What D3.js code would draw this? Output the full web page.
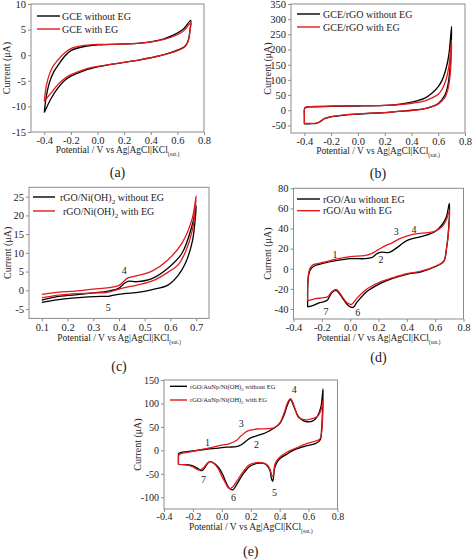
<!DOCTYPE html>
<html><head><meta charset="utf-8">
<script src="https://cdn.jsdelivr.net/npm/d3@7"></script>
<style>
body{margin:0;background:#fff;}
svg{display:block;font-family:"Liberation Serif","Times New Roman",serif;}
</style></head>
<body><svg id="c" width="474" height="559"></svg>
<script>
// ---------- DATA ----------
const xTicksWide = [-0.4,-0.2,0.0,0.2,0.4,0.6,0.8];
const xTicksC = [0.1,0.2,0.3,0.4,0.5,0.6,0.7];
const yTicksA = [-15,-10,-5,0,5,10];
const yTicksB = [-50,0,50,100,150,200,250,300,350];
const yTicksC = [-5,0,5,10,15,20,25];
const yTicksD = [-40,-20,0,20,40,60,80];
const yTicksE = [-100,-50,0,50,100,150];

const namesA = ["GCE without EG","GCE with EG"];
const namesB = ["GCE/rGO without EG","GCE/rGO with EG"];
const namesC = ["rGO/Ni(OH)_{2} without EG","rGO/Ni(OH)_{2} with EG"];
const namesD = ["rGO/Au without EG","rGO/Au with EG"];
const namesE = ["rGO/AuNp/Ni(OH)_{2} without EG","rGO/AuNp/Ni(OH)_{2} with EG"];
const subLabels = ["(a)","(b)","(c)","(d)","(e)"];

const aBlack = [[-0.4,-11.2],[-0.385,-8.0],[-0.36,-5.2],[-0.33,-3.3],[-0.3,-2.1],[-0.25,-0.3],[-0.2,0.9],[-0.1,1.7],[0,2.0],[0.1,2.1],[0.2,2.2],[0.3,2.3],[0.4,2.6],[0.5,3.2],[0.6,4.3],[0.65,5.2],[0.7,6.8],[0.695,5.0],[0.685,3.2],[0.67,2.2],[0.65,1.6],[0.6,1.0],[0.5,0.1],[0.4,-0.5],[0.3,-1.0],[0.2,-1.4],[0.1,-1.8],[0,-2.3],[-0.1,-3.0],[-0.2,-4.1],[-0.25,-5.0],[-0.3,-6.5],[-0.35,-8.5],[-0.4,-11.2]];
const aRed = [[-0.4,-9.0],[-0.385,-6.0],[-0.36,-3.6],[-0.33,-2.0],[-0.3,-1.0],[-0.25,0.4],[-0.2,1.3],[-0.1,1.9],[0,2.1],[0.1,2.1],[0.2,2.2],[0.3,2.3],[0.4,2.6],[0.5,3.1],[0.6,4.0],[0.65,4.8],[0.7,6.3],[0.695,4.8],[0.685,3.1],[0.67,2.1],[0.65,1.5],[0.6,0.9],[0.5,0.1],[0.4,-0.5],[0.3,-1.0],[0.2,-1.4],[0.1,-1.8],[0,-2.2],[-0.1,-2.8],[-0.2,-3.8],[-0.25,-4.6],[-0.3,-5.8],[-0.35,-7.4],[-0.4,-9.0]];

const bBlack = [[-0.4,-45],[-0.4,-20],[-0.4,2],[-0.395,8],[-0.38,10],[-0.35,11],[-0.2,13],[0,14],[0.2,16],[0.3,19],[0.4,27],[0.45,32],[0.5,40],[0.55,55],[0.6,78],[0.63,100],[0.66,140],[0.68,185],[0.7,276],[0.697,215],[0.69,150],[0.68,105],[0.67,78],[0.65,50],[0.6,22],[0.55,12],[0.5,5],[0.45,2],[0.4,0],[0.3,-4],[0.2,-8],[0.1,-10],[0,-13],[-0.1,-16],[-0.2,-22],[-0.25,-28],[-0.28,-37],[-0.3,-42],[-0.32,-44],[-0.36,-44.5],[-0.4,-45]];
const bRed = [[-0.4,-44],[-0.4,-20],[-0.4,3],[-0.395,9],[-0.38,11],[-0.35,12],[-0.2,14],[0,15],[0.2,16],[0.3,18],[0.4,23],[0.45,26],[0.5,31],[0.55,40],[0.6,53],[0.63,70],[0.66,103],[0.68,145],[0.7,232],[0.697,175],[0.69,120],[0.68,85],[0.67,65],[0.65,42],[0.6,20],[0.55,11],[0.5,5],[0.45,1],[0.4,-1],[0.3,-4],[0.2,-8],[0.1,-10],[0,-12],[-0.1,-15],[-0.2,-21],[-0.25,-27],[-0.28,-36],[-0.3,-41],[-0.32,-43],[-0.36,-43.5],[-0.4,-44]];

const cBlack = [[0.1,-2.6],[0.15,-1.8],[0.23,-1.2],[0.3,-0.7],[0.36,-0.2],[0.4,0.6],[0.42,1.8],[0.435,2.4],[0.47,2.3],[0.53,3.2],[0.59,5.9],[0.645,9.9],[0.685,17.5],[0.7,22.6],[0.695,18],[0.685,13],[0.66,7.5],[0.63,4],[0.59,1.4],[0.53,0.2],[0.48,-0.5],[0.42,-0.9],[0.38,-1.3],[0.36,-1.6],[0.33,-1.6],[0.23,-2.0],[0.15,-2.6],[0.1,-3.2]];
const cRed = [[0.1,-1.1],[0.15,-0.6],[0.23,-0.2],[0.3,0.3],[0.36,0.7],[0.4,1.3],[0.42,2.5],[0.435,3.3],[0.47,3.9],[0.53,5.2],[0.59,8.1],[0.645,12.6],[0.685,19.2],[0.7,25.2],[0.695,21],[0.685,16],[0.66,10.5],[0.63,6.8],[0.59,4.8],[0.53,2.5],[0.47,1.4],[0.41,0.5],[0.37,-0.3],[0.35,-0.6],[0.3,-0.7],[0.23,-0.9],[0.15,-1.4],[0.1,-2.0]];

const dBlack = [[-0.3,-38],[-0.3,-20],[-0.295,-8],[-0.285,-2],[-0.27,1],[-0.25,3],[-0.2,5],[-0.1,8],[0,10],[0.1,10],[0.15,11],[0.19,15],[0.22,16.5],[0.27,16],[0.3,18],[0.35,23],[0.4,28],[0.5,32],[0.55,34],[0.6,37],[0.65,44],[0.68,52],[0.7,65],[0.695,40],[0.68,20],[0.66,7],[0.6,2],[0.5,-3],[0.4,-5.5],[0.3,-9.5],[0.2,-15.5],[0.12,-22.5],[0.05,-33],[0.02,-38.5],[-0.01,-37],[-0.04,-32],[-0.07,-26],[-0.1,-21.5],[-0.13,-24],[-0.16,-31],[-0.19,-33],[-0.22,-34],[-0.26,-36.5],[-0.3,-38]];
const dRed = [[-0.3,-32],[-0.3,-18],[-0.295,-6],[-0.285,0],[-0.27,3],[-0.25,4.5],[-0.2,6],[-0.1,9.5],[0,12],[0.1,13],[0.15,15],[0.2,19],[0.25,23],[0.3,26],[0.35,30],[0.45,34.5],[0.55,36],[0.6,37.5],[0.65,42],[0.68,49],[0.7,58],[0.695,38],[0.68,20],[0.66,7.5],[0.6,2.5],[0.5,-2.5],[0.4,-5],[0.3,-9],[0.2,-14],[0.12,-20],[0.05,-29],[0.01,-35.5],[-0.02,-34],[-0.05,-29],[-0.08,-23],[-0.1,-20.5],[-0.13,-23],[-0.16,-28],[-0.2,-29],[-0.25,-30],[-0.3,-32]];

const eBlack = [[-0.3,-30],[-0.3,-15],[-0.298,-6.5],[-0.28,-4.5],[-0.25,-3],[-0.2,-1],[-0.1,2.5],[0,6],[0.05,7],[0.1,8],[0.135,12],[0.16,18],[0.19,25],[0.23,30],[0.26,33],[0.3,37],[0.36,47],[0.4,57],[0.43,75],[0.455,98],[0.475,108],[0.49,100],[0.505,88],[0.53,72],[0.56,64],[0.59,61],[0.63,63],[0.66,72],[0.685,92],[0.7,131],[0.697,90],[0.69,45],[0.68,22],[0.65,15],[0.59,10],[0.5,1],[0.45,-8],[0.405,-17],[0.38,-26],[0.365,-38],[0.352,-66],[0.343,-60],[0.335,-45],[0.32,-35],[0.3,-29],[0.27,-27],[0.24,-28],[0.19,-35],[0.15,-49],[0.1,-74],[0.078,-84],[0.06,-83],[0.043,-77],[0.02,-62],[0.007,-52],[-0.027,-35],[-0.062,-26],[-0.085,-24],[-0.108,-32],[-0.13,-42],[-0.145,-43],[-0.16,-40],[-0.2,-33],[-0.25,-30.5],[-0.3,-30]];
const eRed = [[-0.3,-30],[-0.3,-18],[-0.298,-10],[-0.28,-7],[-0.25,-5],[-0.2,-2],[-0.1,4],[0,11],[0.05,14],[0.1,21],[0.13,30],[0.17,40],[0.2,43],[0.24,45.5],[0.3,46],[0.36,48],[0.4,58],[0.43,79],[0.455,102],[0.475,110],[0.49,103],[0.505,90],[0.53,70],[0.56,66],[0.59,65],[0.63,68],[0.66,72],[0.685,85],[0.7,107],[0.697,70],[0.69,38],[0.68,25],[0.65,20],[0.59,15],[0.5,3],[0.45,-4],[0.41,-12],[0.38,-22],[0.365,-32],[0.355,-56],[0.345,-52],[0.335,-42],[0.32,-33],[0.3,-28],[0.27,-26],[0.24,-26],[0.19,-31],[0.15,-45],[0.1,-67],[0.075,-78],[0.062,-81],[0.045,-80],[0.02,-66],[0.007,-60],[-0.027,-38],[-0.062,-26],[-0.085,-24],[-0.108,-30],[-0.13,-38],[-0.16,-42],[-0.2,-35],[-0.25,-31],[-0.3,-30]];

const cPeakLabels = [["4",0.42,5.2],["5",0.358,-4.6]];
const dPeakLabels = [["1",-0.107,13.7],["2",0.217,8.7],["3",0.326,37],["4",0.45,39],["6",0.053,-44],["7",-0.17,-42.6]];
const ePeakLabels = [["1",-0.10,16],["2",0.24,11.5],["3",0.135,58],["4",0.5,130],["5",0.365,-89],["6",0.08,-100],["7",-0.127,-62]];

// ---------- LAYOUT ----------
const panels = [
 {box:[31,204,4,132], xd:[-0.5,0.8], yd:[-15,10], xt:xTicksWide, yt:yTicksA, black:aBlack, red:aRed, names:namesA,
  leg:{x1:37,x2:60,y:[16,29],tx:62,fs:10}, ytx:6, xty:153, suby:177, sub:subLabels[0], labels:[], tfs:10.5},
 {box:[291,465,4,133], xd:[-0.5,0.8], yd:[-75,350], xt:xTicksWide, yt:yTicksB, black:bBlack, red:bRed, names:namesB,
  leg:{x1:297,x2:320,y:[14,27],tx:323,fs:10}, ytx:267, xty:154, suby:178, sub:subLabels[1], labels:[], tfs:10.5},
 {box:[29,209,187.3,318.4], xd:[0.05,0.75], yd:[-7.5,27.5], xt:xTicksC, yt:yTicksC, black:cBlack, red:cRed, names:namesC,
  leg:{x1:33,x2:55,y:[197,211],tx:[60,63],fs:10}, ytx:7, xty:341, suby:371, sub:subLabels[2], labels:cPeakLabels, tfs:10.5},
 {box:[293.5,463.5,188.3,319], xd:[-0.4,0.8], yd:[-50,80], xt:xTicksWide, yt:yTicksD, black:dBlack, red:dRed, names:namesD,
  leg:{x1:297,x2:320,y:[199,210.7],tx:323,fs:10}, ytx:267, xty:341, suby:362, sub:subLabels[3], labels:dPeakLabels, tfs:10.5},
 {box:[164,337.5,380,509], xd:[-0.4,0.8], yd:[-125,150], xt:xTicksWide, yt:yTicksE, black:eBlack, red:eRed, names:namesE,
  leg:{x1:170,x2:187,y:[386.3,400],tx:190,fs:6.5}, ytx:137, xty:530, suby:556, sub:subLabels[4], labels:ePeakLabels, tfs:10}
];

const svg = d3.select("#c");
const RED = "#e3191c";
const FRAME = "#8c8c8c";

function rich(sel, str, fs){
  const parts = str.split(/_\{([^}]*)\}/);
  let shifted = false;
  parts.forEach((p,i)=>{
    if(i%2===0){
      if(p) sel.append("tspan").attr("dy", shifted ? -0.3*fs : 0).text(p);
      shifted = false;
    } else {
      sel.append("tspan").attr("dy", 0.3*fs).attr("font-size", 0.7*fs).text(p);
      shifted = true;
    }
  });
}
function xTitle(g, x, y){
  const t = g.append("text").attr("x",x).attr("y",y).attr("text-anchor","middle")
    .attr("font-size",9.5).attr("fill","#222");
  t.append("tspan").text("Potential / V vs Ag|AgCl|KCl");
  t.append("tspan").attr("dy",3.3).attr("font-size",5.7).text("(sat.)");
}

panels.forEach(p=>{
  const [L,R,T,B] = p.box;
  const x = d3.scaleLinear().domain(p.xd).range([L,R]);
  const y = d3.scaleLinear().domain(p.yd).range([B,T]);
  const g = svg.append("g");

  // axes
  const ax = g.append("g").attr("transform",`translate(0,${B})`)
    .call(d3.axisBottom(x).tickValues(p.xt).tickSize(3).tickSizeOuter(0).tickPadding(p.tfs<10.5?1:2)
      .tickFormat(v=>v.toFixed(1)));
  const ay = g.append("g").attr("transform",`translate(${L},0)`)
    .call(d3.axisLeft(y).tickValues(p.yt).tickSize(3).tickSizeOuter(0).tickPadding(2)
      .tickFormat(v=>String(v)));
  [ax,ay].forEach(a=>{
    a.attr("font-family",null).attr("font-size",null);
    a.select(".domain").remove();
    a.selectAll(".tick line").attr("stroke",FRAME);
    a.selectAll("text").attr("font-size",p.tfs).attr("fill","#222");
  });
  g.append("rect").attr("x",L).attr("y",T).attr("width",R-L).attr("height",B-T)
    .attr("fill","none").attr("stroke",FRAME).attr("stroke-width",1);

  // curves
  const line = d3.line().x(d=>x(d[0])).y(d=>y(d[1])).curve(d3.curveCatmullRom.alpha(0.5));
  g.append("path").datum(p.black).attr("d",line).attr("fill","none").attr("stroke","#000").attr("stroke-width",1.3);
  g.append("path").datum(p.red).attr("d",line).attr("fill","none").attr("stroke",RED).attr("stroke-width",1.3);

  // peak labels
  p.labels.forEach(l=>{
    g.append("text").attr("x",x(l[1])).attr("y",y(l[2])).attr("dy","0.35em")
      .attr("text-anchor","middle").attr("font-size",10).attr("fill","#222").text(l[0]);
  });

  // legend
  const lg = p.leg;
  ["#000",RED].forEach((c,i)=>{
    g.append("line").attr("x1",lg.x1).attr("x2",lg.x2).attr("y1",lg.y[i]).attr("y2",lg.y[i])
      .attr("stroke",c).attr("stroke-width",1.4);
    const tx = Array.isArray(lg.tx)?lg.tx[i]:lg.tx;
    const t = g.append("text").attr("x",tx).attr("y",lg.y[i]+0.35*lg.fs)
      .attr("font-size",lg.fs).attr("fill","#222");
    rich(t, p.names[i], lg.fs);
  });

  // axis titles
  g.append("text").attr("transform",`translate(${p.ytx},${(T+B)/2}) rotate(-90)`)
    .attr("dy","0.35em").attr("text-anchor","middle").attr("font-size",10).attr("fill","#222")
    .text("Current (\u03bcA)");
  xTitle(g,(L+R)/2,p.xty);
  g.append("text").attr("x",(L+R)/2).attr("y",p.suby).attr("text-anchor","middle")
    .attr("font-size",14).attr("fill","#222").text(p.sub);
});
</script></body></html>
